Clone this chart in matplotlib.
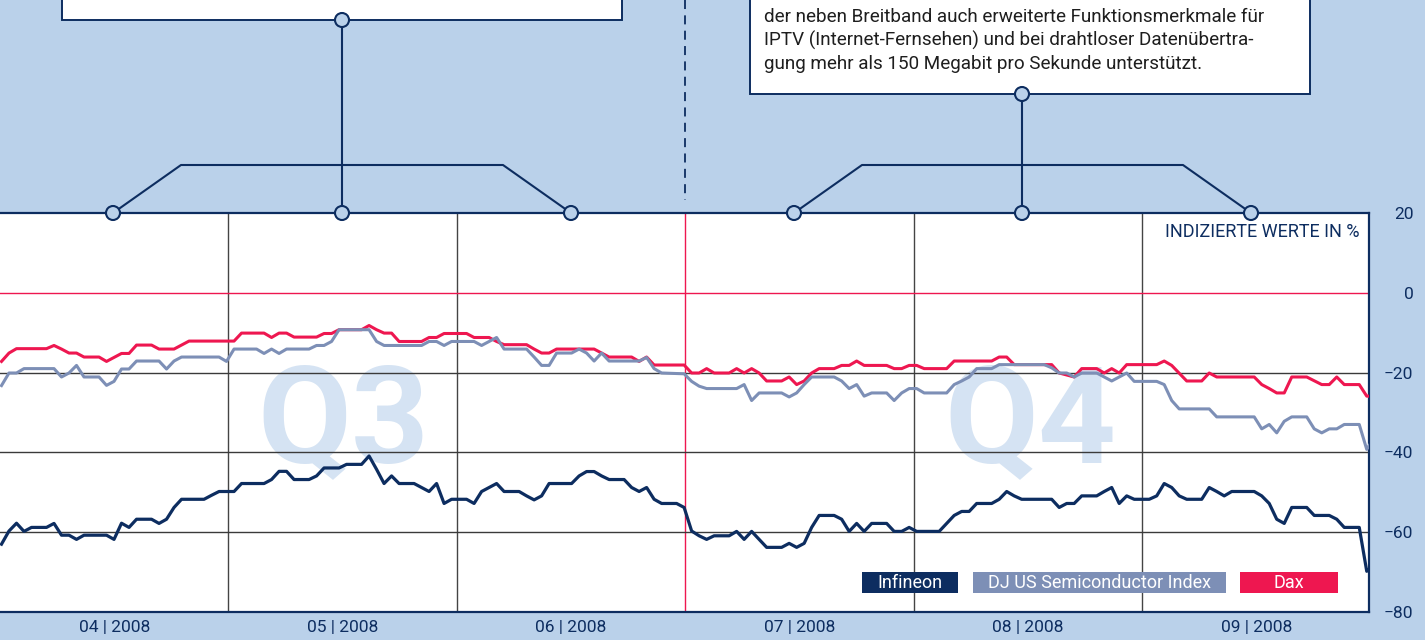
import numpy as np
import matplotlib
matplotlib.use("Agg")
import matplotlib.pyplot as plt
from matplotlib.patches import Rectangle, Circle

plt.rcParams['font.family'] = ['Roboto', 'DejaVu Sans']

# Tage ab 1. April 2008 und indizierte Werte in %
dax_days = [0, 1, 2, 6, 7, 8, 9, 10, 11, 13, 14, 15, 16, 17, 18, 20, 21, 23, 24, 25, 31, 32, 35, 36, 37, 38,
            39, 42, 43, 44, 45, 48, 49, 50, 51, 52, 53, 56, 57, 58, 59, 62, 63, 65, 66, 67, 70, 71, 72, 73,
            74, 79, 80, 81, 84, 85, 86, 87, 91, 92, 93, 94, 95, 97, 98, 99, 100, 101, 102, 104, 105, 106,
            107, 108, 109, 111, 112, 113, 114, 115, 118, 119, 120, 121, 122, 123, 126, 127, 132, 133, 134,
            135, 140, 141, 143, 144, 146, 147, 148, 149, 150, 154, 155, 156, 158, 160, 161, 162, 167, 168,
            169, 170, 171, 172, 174, 176, 177, 178, 179, 181, 182, 183]
dax_vals = [-17.2, -15.1, -14.0, -14.0, -13.2, -14.1, -15.1, -15.1, -16.1, -16.1, -17.2, -16.2, -15.2,
            -15.2, -13.1, -13.1, -14.1, -14.1, -13.1, -12.1, -12.1, -10.1, -10.1, -11.2, -10.1, -10.1,
            -11.1, -11.1, -10.2, -10.2, -9.25, -9.25, -8.2, -9.25, -10.1, -10.1, -12.2, -12.2, -11.2,
            -11.2, -10.2, -10.2, -11.2, -11.2, -12.2, -13.0, -13.0, -14.1, -15.1, -15.1, -14.1, -14.1,
            -15.1, -16.1, -16.1, -17.2, -16.1, -18.1, -18.1, -20.1, -20.1, -19.0, -20.1, -20.1, -19.0,
            -20.1, -19.0, -20.1, -22.1, -22.1, -21.1, -23.0, -22.1, -20.1, -19.0, -19.0, -18.2, -18.2,
            -17.1, -18.2, -18.2, -19.0, -19.0, -18.2, -18.2, -19.0, -19.0, -17.1, -17.1, -16.1, -16.1,
            -18.0, -18.0, -20.1, -21.1, -19.0, -19.0, -20.1, -19.0, -20.1, -18.0, -18.0, -17.1, -18.2,
            -22.1, -22.1, -20.1, -21.1, -21.1, -23.0, -24.0, -25.1, -25.1, -21.1, -21.1, -23.0, -23.0,
            -21.1, -23.0, -23.0, -25.9, -25.9]

dj_days = [0, 1, 2, 3, 7, 8, 9, 10, 11, 13, 14, 15, 16, 17, 18, 21, 22, 23, 24, 29, 30, 31, 34, 35, 36,
           37, 38, 41, 42, 43, 44, 45, 49, 50, 51, 56, 57, 58, 59, 60, 63, 64, 65, 66, 67, 70, 71, 72, 73,
           74, 76, 77, 78, 79, 80, 81, 85, 86, 87, 88, 91, 92, 93, 94, 98, 99, 100, 101, 104, 105, 106,
           107, 108, 111, 112, 113, 114, 115, 116, 118, 119, 120, 121, 122, 123, 126, 127, 128, 129, 130,
           132, 133, 139, 140, 141, 142, 143, 144, 146, 147, 148, 149, 150, 151, 154, 155, 156, 157, 161,
           162, 167, 168, 169, 170, 171, 172, 174, 175, 176, 177, 178, 179, 181, 182, 183]
dj_vals = [-23.25, -20.1, -20.1, -19.0, -19.0, -21.1, -20.1, -18.2, -21.1, -21.1, -23.2, -22.2, -19.1,
           -19.1, -17.1, -17.1, -19.1, -17.1, -16.1, -16.1, -17.2, -14.1, -14.1, -15.2, -14.1, -15.2,
           -14.1, -14.1, -13.2, -13.2, -12.2, -9.25, -9.25, -12.2, -13.2, -13.2, -12.2, -12.2, -13.2,
           -12.2, -12.2, -13.2, -12.2, -11.2, -14.1, -14.1, -16.1, -18.2, -18.2, -15.1, -15.1, -14.1,
           -15.1, -17.1, -15.1, -17.1, -17.1, -16.2, -19.0, -20.1, -20.3, -22.2, -23.4, -24.0, -24.0,
           -23.0, -27.0, -25.1, -25.1, -26.1, -25.1, -23.0, -21.1, -21.1, -22.1, -24.0, -23.0, -25.9,
           -25.1, -25.1, -27.0, -25.1, -24.0, -24.0, -25.1, -25.1, -23.0, -22.1, -21.1, -19.0, -19.0,
           -18.0, -18.0, -18.8, -20.1, -20.1, -21.1, -20.1, -20.1, -21.1, -22.1, -21.1, -20.1, -22.2,
           -22.2, -23.0, -27.0, -29.1, -29.1, -31.1, -31.1, -34.1, -33.0, -35.1, -32.2, -31.1, -31.1,
           -34.1, -35.1, -34.1, -34.1, -33.0, -33.0, -39.25, -36.3]

ifx_days = [0, 1, 2, 3, 4, 6, 7, 8, 9, 10, 11, 14, 15, 16, 17, 18, 20, 21, 22, 23, 24, 27, 28, 29, 31,
            32, 35, 36, 37, 38, 39, 41, 42, 43, 45, 46, 48, 49, 50, 51, 52, 53, 55, 56, 57, 58, 59, 60,
            62, 63, 64, 65, 66, 67, 69, 70, 71, 72, 73, 76, 77, 78, 79, 80, 81, 83, 84, 85, 86, 87, 88,
            90, 91, 92, 93, 94, 95, 97, 98, 99, 100, 101, 102, 104, 105, 106, 107, 108, 109, 111, 112,
            113, 114, 115, 116, 118, 119, 120, 121, 122, 125, 126, 127, 128, 129, 130, 132, 133, 134,
            135, 136, 140, 141, 142, 143, 144, 146, 147, 148, 149, 150, 151, 153, 154, 155, 156, 157,
            158, 160, 161, 162, 163, 164, 167, 168, 169, 170, 171, 172, 174, 175, 177, 178, 179, 181,
            182, 183]
ifx_vals = [-63.0, -59.7, -57.75, -59.8, -58.8, -58.8, -57.8, -60.75, -60.75, -61.8, -60.75, -60.75,
            -61.8, -57.75, -58.8, -56.75, -56.75, -57.8, -56.75, -53.8, -51.75, -51.75, -50.75, -49.8,
            -49.8, -47.8, -47.8, -46.8, -44.75, -44.75, -46.8, -46.8, -45.9, -43.9, -43.9, -43.0, -43.0,
            -40.9, -44.25, -47.8, -45.9, -47.8, -47.8, -48.8, -49.8, -47.8, -52.8, -51.75, -51.75, -52.8,
            -49.8, -48.8, -47.8, -49.8, -49.8, -50.9, -51.9, -50.9, -47.8, -47.8, -45.9, -44.8, -44.8,
            -45.9, -46.8, -46.8, -48.8, -49.8, -48.8, -51.75, -52.8, -52.8, -53.8, -59.7, -60.9, -61.8,
            -60.9, -60.9, -59.8, -61.8, -59.8, -61.8, -63.8, -63.8, -62.8, -63.8, -62.8, -58.8, -55.8,
            -55.8, -56.75, -59.8, -57.8, -59.8, -57.8, -57.8, -59.8, -59.8, -58.8, -59.8, -59.8, -57.8,
            -55.8, -54.8, -54.8, -52.8, -52.8, -51.75, -49.8, -50.9, -51.75, -51.75, -53.8, -52.8, -52.8,
            -50.9, -50.9, -49.8, -48.8, -52.8, -50.9, -51.75, -51.75, -50.9, -47.8, -48.8, -50.9, -51.75,
            -51.75, -48.8, -49.8, -50.9, -49.8, -49.8, -50.9, -52.8, -56.75, -57.8, -53.8, -53.8, -55.8,
            -55.8, -56.75, -58.8, -58.8, -69.8, -68.0]

month_labels = ["04 | 2008", "05 | 2008", "06 | 2008", "07 | 2008", "08 | 2008", "09 | 2008"]
y_ticks = [20, 0, -20, -40, -60, -80]
series_names = ["Infineon", "DJ US Semiconductor Index", "Dax"]

box_text = ["der neben Breitband auch erweiterte Funktionsmerkmale für",
            "IPTV (Internet-Fernsehen) und bei drahtloser Datenübertra-",
            "gung mehr als 150 Megabit pro Sekunde unterstützt."]

BG = "#bad1ea"
NAVY = "#0d2d60"
GREY = "#7d8fb6"
RED = "#ee1750"
WATER = "#d5e3f3"

W, H = 1425, 640
fig = plt.figure(figsize=(W / 100, H / 100), dpi=100)
fig.patch.set_facecolor(BG)

# Hauptdiagramm
ax = fig.add_axes([0, 28 / H, 1369 / W, 399 / H])
ax.set_facecolor("white")
ax.set_xlim(-0.2, 182.3)
ax.set_ylim(-80, 20)

month_w = 30.45
for k in range(1, 6):
    c = RED if k == 3 else "#444444"
    ax.axvline(-0.2 + k * month_w, color=c, lw=1.0, zorder=1)
for v in y_ticks[1:-1]:
    c = RED if v == 0 else "#3a3a3a"
    ax.axhline(v, color=c, lw=1.0, zorder=1)

for xq, q in [(0.2505, "Q3"), (0.753, "Q4")]:
    ax.text(xq, 0.376, q, transform=ax.transAxes, fontsize=98, fontweight="bold", color=WATER,
            ha="center", va="baseline", zorder=0.5)

ax.plot(dax_days, dax_vals, color=RED, lw=2.2, solid_joinstyle="round", zorder=3)
ax.plot(dj_days, dj_vals, color=GREY, lw=2.2, solid_joinstyle="round", zorder=4)
ax.plot(ifx_days, ifx_vals, color=NAVY, lw=2.3, solid_joinstyle="round", zorder=5)

ax.text(0.993, 0.953, "INDIZIERTE WERTE IN %", transform=ax.transAxes, ha="right", va="center",
        fontsize=13, color=NAVY)

ax.set_xticks([-0.2 + (k + 0.5) * month_w for k in range(6)])
ax.set_xticklabels(month_labels)
ax.tick_params(axis="x", length=0, pad=6, labelsize=12.5, labelcolor=NAVY)
ax.set_yticks(y_ticks)
ax.set_yticklabels([str(v).replace("-", "\u2212") for v in y_ticks])
ax.yaxis.tick_right()
ax.tick_params(axis="y", length=0, pad=32, labelsize=12.5, labelcolor=NAVY)
for lab in ax.get_yticklabels():
    lab.set_horizontalalignment("right")

ax.spines["left"].set_visible(False)
for s in ["top", "bottom", "right"]:
    ax.spines[s].set_color(NAVY)
    ax.spines[s].set_linewidth(1.6)

# Oberer Bereich mit Kästen und Verbindungslinien
ov = fig.add_axes([0, 0, 1, 1])
ov.set_xlim(0, W)
ov.set_ylim(H, 0)
ov.axis("off")
ov.set_zorder(5)

ov.add_patch(Rectangle((62, -10), 560, 30, facecolor="white", edgecolor=NAVY, lw=1.4))
ov.add_patch(Rectangle((750, -10), 560, 104, facecolor="white", edgecolor=NAVY, lw=1.4))
for i, line in enumerate(box_text):
    ov.text(764, 17 + i * 23.5, line, ha="left", va="center", fontsize=13.6, color="#1e1e1e")

ov.plot([685, 685], [0, 200], color=NAVY, lw=1.3, ls=(0, (5, 3.5)))

for x0, xc, x1, ytop in [(113, 342, 571, 20), (794, 1022, 1251, 94)]:
    ov.plot([x0, x0 + 68, x1 - 68, x1], [213, 165, 165, 213], color=NAVY, lw=1.5)
    ov.plot([xc, xc], [213, ytop], color=NAVY, lw=1.5)
    for cx, cy in [(x0, 213), (xc, 213), (x1, 213), (xc, ytop)]:
        ov.add_patch(Circle((cx, cy), 7, facecolor=BG, edgecolor=NAVY, lw=1.5, zorder=6))

# Legende
for (x0, w), name, c in zip([(862, 96), (973, 253), (1240, 98)], series_names, [NAVY, GREY, RED]):
    ov.add_patch(Rectangle((x0, 572), w, 21, facecolor=c, edgecolor="none"))
    ov.text(x0 + w / 2, 582.5, name, ha="center", va="center", fontsize=13, color="white")

fig.savefig("out.png", dpi=100, facecolor=BG)
